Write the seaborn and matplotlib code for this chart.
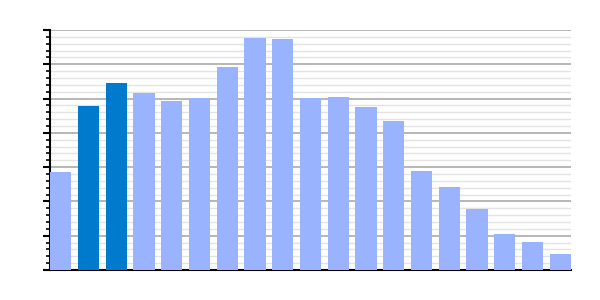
import matplotlib
matplotlib.use("Agg")
import matplotlib.pyplot as plt
import seaborn as sns
import pandas as pd
from matplotlib.ticker import MultipleLocator, NullFormatter

categories = [f"c{i}" for i in range(1, 20)]
values = [2.86, 4.78, 5.45, 5.16, 4.93, 5.02, 5.92, 6.77, 6.74, 5.02,
          5.05, 4.75, 4.35, 2.89, 2.42, 1.78, 1.05, 0.82, 0.47]
highlight = [False, True, True] + [False] * 16

light = "#99B3FF"
dark = "#007ACC"
colors = [dark if h else light for h in highlight]

df = pd.DataFrame({"cat": categories, "val": values})

sns.set_style("white")
fig = plt.figure(figsize=(6, 3), dpi=100)
ax = fig.add_axes([50 / 600, 30 / 300, 521 / 600, 240 / 300])

w = 0.77
sns.barplot(data=df, x="cat", y="val", hue="cat", palette=colors,
            legend=False, width=w, saturation=1, ax=ax, zorder=3,
            linewidth=0, edgecolor="none")

ax.set_xlim(-w / 2, len(categories) - 1 + w / 2)
ax.set_ylim(0, 7)
ax.yaxis.set_major_locator(MultipleLocator(1))
ax.yaxis.set_minor_locator(MultipleLocator(0.2))
ax.yaxis.set_major_formatter(NullFormatter())
ax.set_xticks([])
ax.set_xlabel("")
ax.set_ylabel("")

ax.grid(which="major", axis="y", color="#aaaaaa", linewidth=1.2, zorder=0)
ax.grid(which="minor", axis="y", color="#e3e3e3", linewidth=1.0, zorder=0)
ax.set_axisbelow(True)

for s in ["top", "right"]:
    ax.spines[s].set_visible(False)
for s in ["left", "bottom"]:
    ax.spines[s].set_color("black")
    ax.spines[s].set_linewidth(1.5)

ax.tick_params(axis="y", which="major", direction="out", length=5, width=1.5, color="black", left=True)
ax.tick_params(axis="y", which="minor", direction="out", length=3, width=1.2, color="black", left=True)

fig.savefig("out.png", dpi=100)
